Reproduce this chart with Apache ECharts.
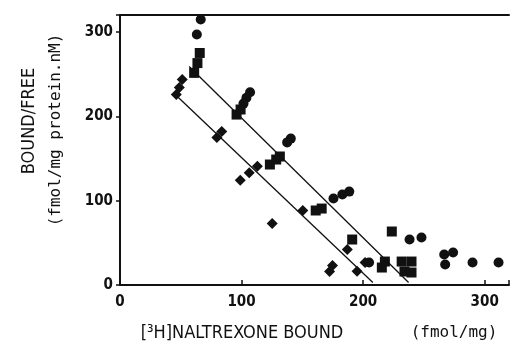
<html>
<head>
<meta charset="utf-8">
<script src="https://cdn.jsdelivr.net/npm/echarts@6/dist/echarts.min.js"></script>
<style>body{margin:0;background:#fff}</style>
</head>
<body>
<div id="main" style="width:512px;height:345px;"></div>
<script type="text/javascript">
// x: [3H]naltrexone bound (fmol/mg), y: bound/free
var circles = [
  [66.4, 314.6], [63.2, 296.8],
  [107, 228.4], [104, 222], [101.6, 215],
  [140.5, 173.5], [137.5, 169],
  [175.6, 102.5], [182.9, 107.2], [188.6, 110.7],
  [204.9, 26.7],
  [238.2, 53.9], [248, 56.3],
  [266.7, 36.1], [274, 38.5], [267.5, 24.3],
  [290, 26.7], [311.4, 26.7]
];
var squares = [
  [65.6, 275], [63.7, 263], [61, 251.4],
  [99.2, 208], [95.9, 202],
  [123.3, 142.8], [128.5, 148.7], [131.5, 152.3],
  [161, 88.3], [165.9, 90.6],
  [191, 53.9],
  [223.6, 63.4],
  [217.9, 27.8], [215.4, 20.7],
  [231.7, 27.8], [239.8, 27.8], [234, 16], [239.8, 14.8]
];
var diamonds = [
  [51.2, 243.5], [48.8, 234], [46.3, 225.7],
  [83.7, 181.9], [79.7, 174.8],
  [98.9, 124.2], [106.3, 132.9], [113, 140.8],
  [125.2, 72.9],
  [150.4, 88.3],
  [187, 42],
  [174.8, 23.1], [172.4, 16],
  [195, 16.4],
  [201.6, 26.7]
];
var upperLine = [[56.9, 258.9], [237.4, 3]];
var lowerLine = [[46.3, 224.5], [208, 3]];
var xTicks = [0, 100, 200, 300];
var yTicks = [0, 100, 200, 300];

var myChart = echarts.init(document.getElementById('main'));
var ink = '#111';
var tickFont = {color: ink, fontFamily: 'DejaVu Sans Condensed', fontWeight: 'bold', fontSize: 15};
var dot = {color: ink, opacity: 1};

var option = {
  backgroundColor: '#fff',
  animation: false,
  grid: {left: 120, top: 15, right: -2, bottom: 60},
  xAxis: [{
    type: 'value', min: 0, max: 320, interval: 100,
    splitLine: {show: false},
    axisLine: {lineStyle: {color: ink, width: 2}},
    axisTick: {inside: true, length: 5, lineStyle: {color: ink, width: 1.5}},
    axisLabel: Object.assign({margin: 10, formatter: function (v) {
      return xTicks.indexOf(v) >= 0 ? v : '';
    }}, tickFont)
  }, {
    type: 'value', position: 'top', min: 0, max: 320,
    splitLine: {show: false},
    axisLine: {show: true, lineStyle: {color: ink, width: 2}},
    axisTick: {show: false}, axisLabel: {show: false}
  }],
  yAxis: {
    type: 'value', min: 0, max: 320, interval: 100,
    splitLine: {show: false},
    axisLine: {show: true, lineStyle: {color: ink, width: 2}},
    axisTick: {show: true, length: 4, lineStyle: {color: ink, width: 1.5}},
    axisLabel: Object.assign({margin: 7, formatter: function (v) {
      return yTicks.indexOf(v) >= 0 ? v : '';
    }}, tickFont)
  },
  series: [
    {type: 'line', data: upperLine, symbol: 'none', lineStyle: {color: ink, width: 1.3}},
    {type: 'line', data: lowerLine, symbol: 'none', lineStyle: {color: ink, width: 1.3}},
    {type: 'scatter', data: circles, symbol: 'circle', symbolSize: 10, itemStyle: dot},
    {type: 'scatter', data: squares, symbol: 'rect', symbolSize: 10, itemStyle: dot},
    {type: 'scatter', data: diamonds, symbol: 'diamond', symbolSize: 11, itemStyle: dot}
  ],
  graphic: [
    {type: 'text', x: 29, y: 121, rotation: Math.PI / 2,
     style: {text: 'BOUND/FREE', fill: ink, font: '18px "DejaVu Sans Condensed"', textAlign: 'center', textVerticalAlign: 'middle'}},
    {type: 'text', x: 56, y: 130, rotation: Math.PI / 2,
     style: {text: '(fmol/mg protein.nM)', fill: ink, font: '16px "DejaVu Sans Mono"', textAlign: 'center', textVerticalAlign: 'middle'}},
    {type: 'text', x: 242, y: 333,
     style: {text: '[³H]NALTREXONE BOUND', fill: ink, font: '18px "DejaVu Sans Condensed"', textAlign: 'center', textVerticalAlign: 'middle'}},
    {type: 'text', x: 454, y: 333,
     style: {text: '(fmol/mg)', fill: ink, font: '16px "DejaVu Sans Mono"', textAlign: 'center', textVerticalAlign: 'middle'}}
  ]
};
myChart.setOption(option);
</script>
</body>
</html>
